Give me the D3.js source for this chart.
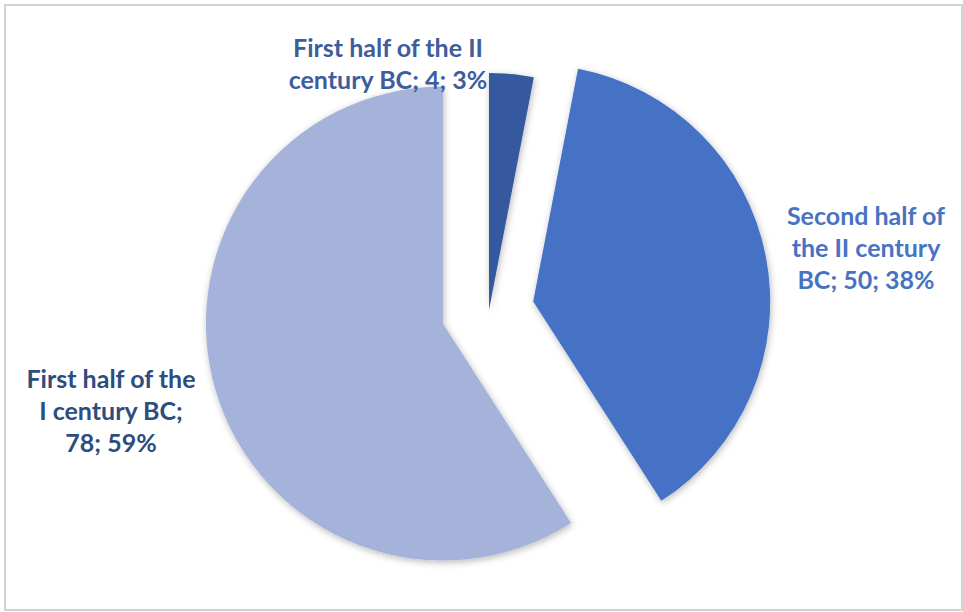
<!DOCTYPE html>
<html>
<head>
<meta charset="utf-8">
<script src="https://cdn.jsdelivr.net/npm/d3@7/dist/d3.min.js"></script>
<style>
  html, body { margin: 0; padding: 0; background: #fff; }
  svg { display: block; }
</style>
</head>
<body>
<svg id="chart" width="963" height="612"></svg>
<script>
// Periods and object counts
const categories = [
  "First half of the II century BC",
  "Second half of the II century BC",
  "First half of the I century BC"
];
const values = [4, 50, 78];

// Slice and label colours
const sliceColors = ["#34599e", "#4472c4", "#a5b3da"];
const labelColors = ["#3d5d9c", "#4873c0", "#2c4d7d"];

// Distance each slice is pulled out from the centre (px)
const explode = [0, 45, 48];

// Word counts after which each label line wraps
const wrapAfter = [[5], [3, 6], [4, 7]];

// Label anchor (centre of first line's baseline), relative to svg
const labelPos = [[388, 57], [866, 225], [111, 388]];

const W = 963, H = 612;
const cx = 489, cy = 310, R = 237;
const fontSize = 25, lineH = 32;

const svg = d3.select("#chart");

// frame
svg.append("rect")
  .attr("x", 5).attr("y", 5)
  .attr("width", W - 6).attr("height", H - 7)
  .attr("fill", "#fff")
  .attr("stroke", "#d3d3d3").attr("stroke-width", 2);

// soft shadow under the slices
const defs = svg.append("defs");
const f = defs.append("filter").attr("id", "shadow")
  .attr("x", "-20%").attr("y", "-20%").attr("width", "140%").attr("height", "140%");
f.append("feDropShadow")
  .attr("dx", 1).attr("dy", 2).attr("stdDeviation", 3.5)
  .attr("flood-color", "#000").attr("flood-opacity", 0.28);

const total = d3.sum(values);
const pie = d3.pie().sort(null).value(d => d)(values);
const arc = d3.arc().innerRadius(0).outerRadius(R);

const g = svg.append("g").attr("transform", `translate(${cx},${cy})`);

g.selectAll("path.slice")
  .data(pie)
  .join("path")
  .attr("class", "slice")
  .attr("d", arc)
  .attr("fill", (d, i) => sliceColors[i])
  .attr("filter", "url(#shadow)")
  .attr("transform", (d, i) => {
    const a = (d.startAngle + d.endAngle) / 2;
    return `translate(${Math.sin(a) * explode[i]},${-Math.cos(a) * explode[i]})`;
  });

// data labels: "category; value; percent"
values.forEach((v, i) => {
  const pct = Math.round(v / total * 100);
  const words = `${categories[i]}; ${v}; ${pct}%`.split(" ");
  const breaks = [0, ...wrapAfter[i], words.length];
  const lines = [];
  for (let k = 0; k < breaks.length - 1; k++) {
    lines.push(words.slice(breaks[k], breaks[k + 1]).join(" "));
  }
  const t = svg.append("text")
    .attr("text-anchor", "middle")
    .attr("font-family", "Lato, 'Open Sans', sans-serif")
    .attr("font-weight", "bold")
    .attr("font-size", fontSize)
    .attr("fill", labelColors[i]);
  lines.forEach((ln, k) => {
    t.append("tspan")
      .attr("x", labelPos[i][0])
      .attr("y", labelPos[i][1] + k * lineH)
      .text(ln);
  });
});
</script>
</body>
</html>
